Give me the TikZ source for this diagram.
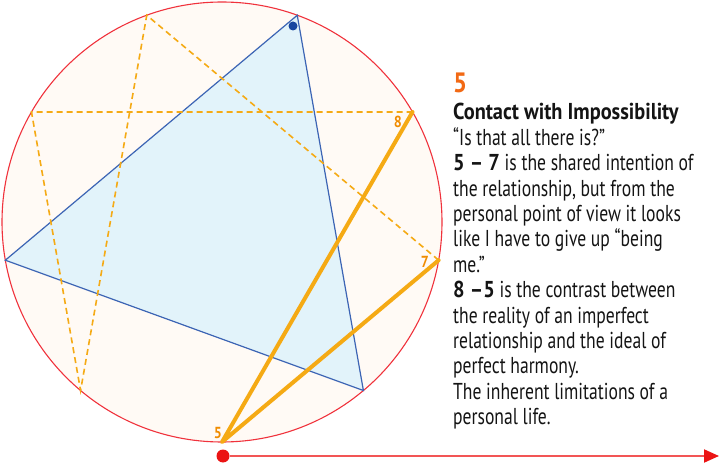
\documentclass[tikz,border=0pt]{standalone}
\usepackage{fontspec}
\setmainfont[FakeStretch=0.765, BoldFeatures={FakeStretch=0.885}]{PT Sans}
\usetikzlibrary{calc,arrows.meta}
\definecolor{ringred}{RGB}{240,50,60}
\definecolor{creamfill}{RGB}{255,250,245}
\definecolor{bluefill}{RGB}{226,243,250}
\definecolor{triblue}{RGB}{60,100,180}
\definecolor{dotblue}{RGB}{25,70,160}
\definecolor{hexorange}{RGB}{245,170,20}
\definecolor{labelorange}{RGB}{240,140,0}
\definecolor{headorange}{RGB}{242,105,20}
\definecolor{arrowred}{RGB}{235,20,20}
\definecolor{linered}{RGB}{242,85,85}
\definecolor{textgray}{RGB}{20,20,20}
\begin{document}
\begin{tikzpicture}[x=1pt,y=1pt,
  ring/.style={draw=ringred, line width=1.1pt, fill=creamfill},
  tri/.style={draw=triblue, line width=1.2pt, fill=bluefill, line join=miter},
  hexdash/.style={draw=hexorange, line width=1.6pt, dash pattern=on 6pt off 4pt},
  hexsolid/.style={draw=hexorange, line width=4pt, line cap=round, line join=round},
  ptlabel/.style={text=labelorange, font=\bfseries\fontsize{16}{16}\selectfont, inner sep=0pt},
  heading/.style={text=headorange, font=\bfseries\fontsize{28}{28}\selectfont, inner sep=0pt, anchor=base west},
  txt/.style={text=textgray, font=\fontsize{23}{25}\selectfont, inner sep=0pt, anchor=base west},
  bluedot/.style={circle, fill=dotblue, inner sep=0pt, minimum size=9pt},
  reddot/.style={circle, fill=arrowred, inner sep=0pt, minimum size=13pt},
  timeline/.style={draw=linered, line width=2pt, -{Triangle[length=15pt,width=13pt,color=arrowred]}}
]
\useasboundingbox (0,0) rectangle (720,466);
\coordinate (c) at (222,244);
\draw[ring] (c) circle[radius=220];
\foreach \n/\a in {1/110,2/150,3/190,4/230,5/270,6/310,7/350,8/30,9/70}
  \coordinate (p\n) at ($(c)+(\a:220)$);
% triangle 3-6-9
\draw[tri] (p9) -- (p3) -- (p6) -- cycle;
% hexad
\draw[hexdash] (p7) -- (p1) -- (p4) -- (p2) -- (p8);
\draw[hexsolid] (p8) -- (p5) -- (p7);
\node[bluedot] (d9) at (293,440) {};
\node[ptlabel] (l8) at (398,344) {8};
\node[ptlabel] (l7) at (425,204) {7};
\node[ptlabel] (l5) at (218,33) {5};
% timeline
\node[reddot] (start) at (223,10) {};
\coordinate (tend) at (719,10);
\draw[timeline] (start) -- (tend);
% text
\node[heading] (h) at (453,373) {5};
\foreach \t [count=\i from 0] in {
  {\bfseries Contact with Impossibility},
  {“Is that all there is?”},
  {\bfseries 5 – 7\mdseries{} is the shared intention of},
  {the relationship, but from the},
  {personal point of view it looks},
  {like I have to give up “being},
  {me.”},
  {\bfseries 8 –5\mdseries{} is the contrast between},
  {the reality of an imperfect},
  {relationship and the ideal of},
  {perfect harmony.},
  {The inherent limitations of a},
  {personal life.}}
  \node[txt] (t\i) at (453,346-25.4*\i) {\t};
\end{tikzpicture}
\end{document}
